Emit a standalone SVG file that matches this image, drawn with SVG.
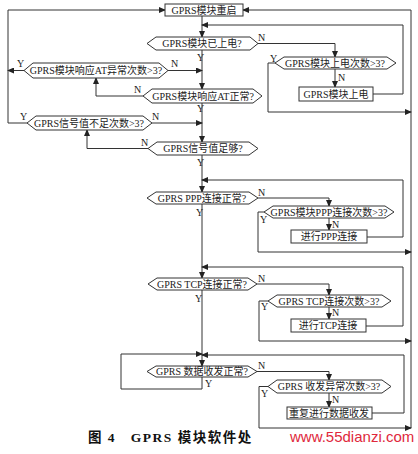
<svg xmlns="http://www.w3.org/2000/svg" width="418" height="454" viewBox="0 0 418 454">
<defs>
<marker id="ar" markerWidth="7" markerHeight="6" refX="6" refY="3" orient="auto" markerUnits="userSpaceOnUse">
<path d="M0,0 L7,3 L0,6 Z" fill="#222"/>
</marker>
<style>
.n{fill:#fff;stroke:#333;stroke-width:1}
.t{font-family:"Times New Roman","Liberation Serif","Noto Sans CJK SC",serif;font-size:10px;fill:#222;text-anchor:middle;dominant-baseline:central}
.l{font-family:"Times New Roman","Liberation Serif",serif;font-size:10px;fill:#222}
.c{fill:none;stroke:#333;stroke-width:1}
.a{marker-end:url(#ar)}
</style>
</defs>
<rect width="418" height="454" fill="#fff"/>
<g id="connectors">
<path class="c a" d="M202,16 V37"/>
<path class="c a" d="M202,50 V89"/>
<path class="c a" d="M202,103 V142"/>
<path class="c a" d="M202,155 V192"/>
<path class="c a" d="M202,204 V278"/>
<path class="c a" d="M202,290 V366"/>
<path class="c a" d="M24,70.5 H8"/>
<path class="c a" d="M27,123 H8 V10 H165"/>
<path class="c a" d="M168,70.5 H202"/>
<path class="c a" d="M143,96 H96 V78"/>
<path class="c a" d="M152,123 H202"/>
<path class="c a" d="M148,148.5 H87 V130"/>
<path class="c a" d="M258,43.5 H335 V57"/>
<path class="c a" d="M275,63 H268 V112 H411"/>
<path class="c a" d="M335,69 V87"/>
<path class="c a" d="M373,94 H403 V25 H202"/>
<path class="c a" d="M411,428 V10 H243"/>
<path class="c a" d="M258,198 H329 V206"/>
<path class="c a" d="M264,212 H258 V252 H411"/>
<path class="c a" d="M329,218 V230"/>
<path class="c a" d="M367,237 H403 V180 H202"/>
<path class="c a" d="M257,284 H329 V295"/>
<path class="c a" d="M268,301 H259 V341 H411"/>
<path class="c a" d="M329,307 V319"/>
<path class="c a" d="M366,326 H403 V267 H202"/>
<path class="c a" d="M202,377 V389 H121 V354 H202"/>
<path class="c a" d="M257,371.5 H329 V380"/>
<path class="c a" d="M268,386.5 H259 V428 H411"/>
<path class="c a" d="M329,393 V407"/>
<path class="c a" d="M372,413 H404 V355 H202"/>
<text class="l" x="197" y="61">Y</text>
<text class="l" x="197" y="112">Y</text>
<text class="l" x="197" y="166">Y</text>
<text class="l" x="196" y="216">Y</text>
<text class="l" x="195" y="302">Y</text>
<text class="l" x="205" y="387">Y</text>
<text class="l" x="17" y="67">Y</text>
<text class="l" x="20" y="120">Y</text>
<text class="l" x="171" y="67">N</text>
<text class="l" x="134" y="93">N</text>
<text class="l" x="152" y="120">N</text>
<text class="l" x="141" y="146">N</text>
<text class="l" x="258" y="41">N</text>
<text class="l" x="270" y="62">Y</text>
<text class="l" x="338" y="81">N</text>
<text class="l" x="258" y="196">N</text>
<text class="l" x="260" y="223">Y</text>
<text class="l" x="332" y="228">N</text>
<text class="l" x="258" y="282">N</text>
<text class="l" x="261" y="310">Y</text>
<text class="l" x="332" y="316">N</text>
<text class="l" x="258" y="369">N</text>
<text class="l" x="261" y="397">Y</text>
<text class="l" x="332" y="403">N</text>
</g>
<g id="restart"><rect class="n" x="165" y="4" width="78" height="12"/><text class="t" x="204" y="10">GPRS模块重启</text></g>
<g id="d-powered"><polygon class="n" points="147,43.5 156,37 250,37 258,43.5 250,50 156,50"/><text class="t" x="202" y="43.5">GPRS模块已上电?</text></g>
<g id="d-powercount"><polygon class="n" points="275,63 284,57 387,57 396,63 387,69 284,69"/><text class="t" x="335" y="63">GPRS模块上电次数&gt;3?</text></g>
<g id="b-power"><rect class="n" x="299" y="87" width="74" height="14"/><text class="t" x="336" y="94">GPRS模块上电</text></g>
<g id="d-atcount"><polygon class="n" points="24,70.5 33,63 159,63 168,70.5 159,78 33,78"/><text class="t" x="96" y="70.5">GPRS模块响应AT异常次数&gt;3?</text></g>
<g id="d-atok"><polygon class="n" points="143,96 152,89 253,89 262,96 253,103 152,103"/><text class="t" x="203" y="96">GPRS模块响应AT正常?</text></g>
<g id="d-sigcount"><polygon class="n" points="27,123 36,116 143,116 152,123 143,130 36,130"/><text class="t" x="89" y="123">GPRS信号值不足次数&gt;3?</text></g>
<g id="d-sigok"><polygon class="n" points="148,148.5 157,142 249,142 258,148.5 249,155 157,155"/><text class="t" x="203" y="148.5">GPRS信号值足够?</text></g>
<g id="d-pppok"><polygon class="n" points="147,198 156,192 249,192 258,198 249,204 156,204"/><text class="t" x="202" y="198">GPRS PPP连接正常?</text></g>
<g id="d-pppcount"><polygon class="n" points="264,212 273,206 385,206 394,212 385,218 273,218"/><text class="t" x="329" y="212">GPRS模块PPP连接次数&gt;3?</text></g>
<g id="b-ppp"><rect class="n" x="291" y="230" width="76" height="13"/><text class="t" x="329" y="236.5">进行PPP连接</text></g>
<g id="d-tcpok"><polygon class="n" points="148,284 157,278 248,278 257,284 248,290 157,290"/><text class="t" x="202" y="284">GPRS TCP连接正常?</text></g>
<g id="d-tcpcount"><polygon class="n" points="268,301 277,295 382,295 391,301 382,307 277,307"/><text class="t" x="329" y="301">GPRS TCP连接次数&gt;3?</text></g>
<g id="b-tcp"><rect class="n" x="291" y="319" width="75" height="13"/><text class="t" x="328" y="325.5">进行TCP连接</text></g>
<g id="d-dataok"><polygon class="n" points="147,371.5 156,366 248,366 257,371.5 248,377 156,377"/><text class="t" x="202" y="371.5">GPRS 数据收发正常?</text></g>
<g id="d-datacount"><polygon class="n" points="268,386.5 277,380 382,380 391,386.5 382,393 277,393"/><text class="t" x="329" y="386.5">GPRS 收发异常次数&gt;3?</text></g>
<g id="b-data"><rect class="n" x="287" y="407" width="85" height="12"/><text class="t" x="329" y="413">重复进行数据收发</text></g>
<text x="88" y="442" font-family="'Times New Roman','Liberation Serif','Noto Sans CJK SC',serif" font-size="13.5" font-weight="bold" fill="#111" letter-spacing="1.5" xml:space="preserve">图 4   GPRS 模块软件处</text>
<text x="290" y="442" font-family="'Liberation Sans',Arial,sans-serif" font-size="15" fill="#e0283c">www.55dianzi.com</text>
</svg>
